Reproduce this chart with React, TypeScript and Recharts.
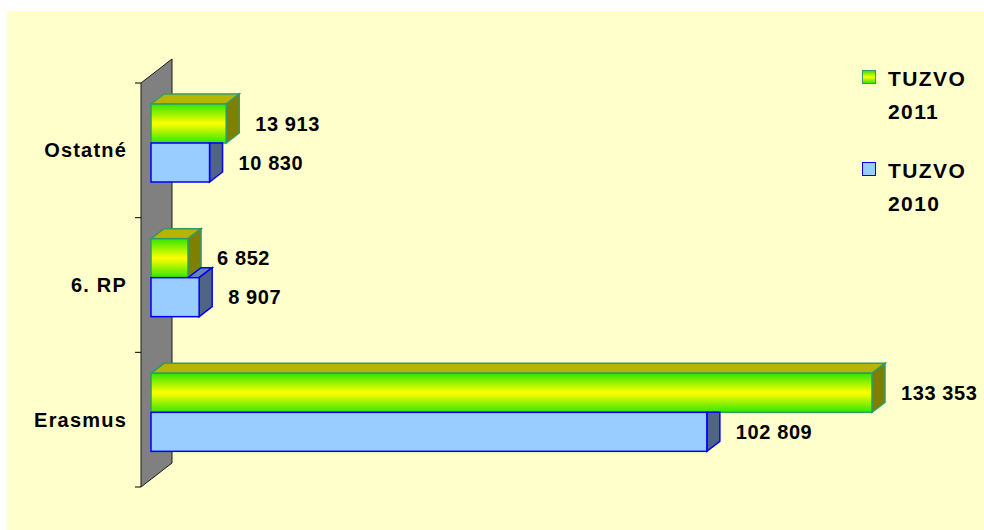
import { BarChart, Bar, XAxis, YAxis, ReferenceArea, LabelList } from 'recharts';

const categories = ['Ostatné', '6. RP', 'Erasmus'];
const tuzvo2011 = [13913, 6852, 133353];
const tuzvo2010 = [10830, 8907, 102809];
const seriesNames = ['TUZVO 2011', 'TUZVO 2010'];

const data = categories.map((name, i) => ({ name, v2011: tuzvo2011[i], v2010: tuzvo2010[i] }));

const FONT = '"Liberation Sans", Arial, sans-serif';
const DX = 13;
const DY = 10;
const SHIFT = -7;

const fmt = (v: number) => String(v).replace(/\B(?=(\d{3})+(?!\d))/g, ' ');

const GreenBox = (props: any) => {
  const { x, y, width, height, index } = props;
  const y0 = y + SHIFT;
  const id = `grad2011-${index}`;
  return (
    <g>
      <defs>
        <linearGradient id={id} x1="0" y1="0" x2="0" y2="1">
          <stop offset="0%" stopColor="#33E600" />
          <stop offset="50%" stopColor="#FFFF00" />
          <stop offset="100%" stopColor="#33E600" />
        </linearGradient>
      </defs>
      <polygon
        points={`${x},${y0} ${x + DX},${y0 - DY} ${x + width + DX},${y0 - DY} ${x + width},${y0}`}
        fill="#B8B400"
        stroke="#339966"
        strokeWidth={1.5}
      />
      <polygon
        points={`${x + width},${y0} ${x + width + DX},${y0 - DY} ${x + width + DX},${y0 + height - DY} ${x + width},${y0 + height}`}
        fill="#808000"
        stroke="#339966"
        strokeWidth={1.5}
      />
      <rect x={x} y={y0} width={width} height={height} fill={`url(#${id})`} stroke="#339966" strokeWidth={1.5} />
    </g>
  );
};

const BlueBox = (props: any) => {
  const { x, y, width, height, payload } = props;
  const y0 = y + SHIFT;
  // width of the 2011 bar in front of this one (same scale, starting at 0)
  const wFront = payload && payload.v2010 ? (width * payload.v2011) / payload.v2010 : 0;
  const topStart = Math.min(wFront, width);
  const sideHidden = wFront >= width;
  return (
    <g>
      {width > wFront && (
        <polygon
          points={`${x + topStart},${y0} ${x + topStart + DX},${y0 - DY} ${x + width + DX},${y0 - DY} ${x + width},${y0}`}
          fill="#6A85AD"
          stroke="#0000FF"
          strokeWidth={1.5}
        />
      )}
      <polygon
        points={
          sideHidden
            ? `${x + width},${y0} ${x + width + DX},${y0} ${x + width + DX},${y0 + height - DY} ${x + width},${y0 + height}`
            : `${x + width},${y0} ${x + width + DX},${y0 - DY} ${x + width + DX},${y0 + height - DY} ${x + width},${y0 + height}`
        }
        fill="#506585"
        stroke="#0000FF"
        strokeWidth={1.5}
      />
      <rect x={x} y={y0} width={width} height={height} fill="#99CCFF" stroke="#0000FF" strokeWidth={1.5} />
    </g>
  );
};

const Wall = (props: any) => {
  const { x, y, height } = props;
  const fx = x - 10;
  const bx = x + 21;
  const ticks = [0, 1, 2, 3].map((i) => y + (i * height) / 3);
  return (
    <g>
      <polygon
        points={`${fx},${y} ${bx},${y - 24} ${bx},${y + height - 24} ${fx},${y + height}`}
        fill="#808080"
        stroke="#1a1a1a"
        strokeWidth={1}
      />
      {ticks.map((ty, i) => (
        <line key={i} x1={fx - 6} y1={ty} x2={fx} y2={ty} stroke="#000" strokeWidth={1} />
      ))}
    </g>
  );
};

const CategoryTick = (props: any) => {
  const { y, payload } = props;
  return (
    <text
      x={120}
      y={y}
      textAnchor="end"
      dominantBaseline="central"
      fontFamily={FONT}
      fontWeight="bold"
      fontSize={20}
      letterSpacing={1.2}
      fill="#000"
    >
      {payload.value}
    </text>
  );
};

const ValueLabel = (props: any) => {
  const { x, y, width, height, value } = props;
  return (
    <text
      x={x + width + 29}
      y={y + height / 2 + SHIFT}
      dominantBaseline="central"
      fontFamily={FONT}
      fontWeight="bold"
      fontSize={20}
      letterSpacing={0.6}
      fill="#000"
    >
      {fmt(value)}
    </text>
  );
};

const LegendBox = () => {
  const swatches = [
    { bg: 'linear-gradient(#33E600, #FFFF00, #33E600)', border: '#339966' },
    { bg: '#99CCFF', border: '#0000FF' },
  ];
  return (
    <div
      style={{
        position: 'absolute',
        left: 855,
        top: 51,
        width: 120,
        fontFamily: FONT,
        fontWeight: 'bold',
        fontSize: 21,
        letterSpacing: 1.4,
        color: '#000',
      }}
    >
      {seriesNames.map((name, i) => {
        const [a, b] = name.split(' ');
        return (
          <div key={name} style={{ position: 'relative', height: 92 }}>
            <span
              style={{
                position: 'absolute',
                left: 0,
                top: 8,
                width: 12,
                height: 12,
                background: swatches[i].bg,
                border: `1.5px solid ${swatches[i].border}`,
              }}
            />
            <div style={{ position: 'absolute', left: 26, top: 0, lineHeight: '33px' }}>
              <div>{a}</div>
              <div>{b}</div>
            </div>
          </div>
        );
      })}
    </div>
  );
};

export default function App() {
  return (
    <div style={{ position: 'absolute', left: 0, top: 0, width: 984, height: 530, background: '#fff' }}>
      <div style={{ position: 'absolute', left: 7, top: 11, width: 977, height: 519, background: '#FFFFCC' }}>
        <BarChart
          layout="vertical"
          width={977}
          height={519}
          data={data}
          margin={{ top: 72, right: 22, bottom: 43, left: 0 }}
          barSize={39}
          barGap={0}
        >
          <XAxis type="number" hide domain={[0, 150000]} />
          <YAxis
            type="category"
            dataKey="name"
            width={144}
            axisLine={false}
            tickLine={false}
            tick={<CategoryTick />}
          />
          <ReferenceArea x1={0} x2={150000} ifOverflow="visible" shape={<Wall />} />
          <Bar dataKey="v2011" name={seriesNames[0]} shape={<GreenBox />} isAnimationActive={false}>
            <LabelList dataKey="v2011" content={<ValueLabel />} />
          </Bar>
          <Bar dataKey="v2010" name={seriesNames[1]} shape={<BlueBox />} isAnimationActive={false}>
            <LabelList dataKey="v2010" content={<ValueLabel />} />
          </Bar>
        </BarChart>
        <LegendBox />
      </div>
    </div>
  );
}
